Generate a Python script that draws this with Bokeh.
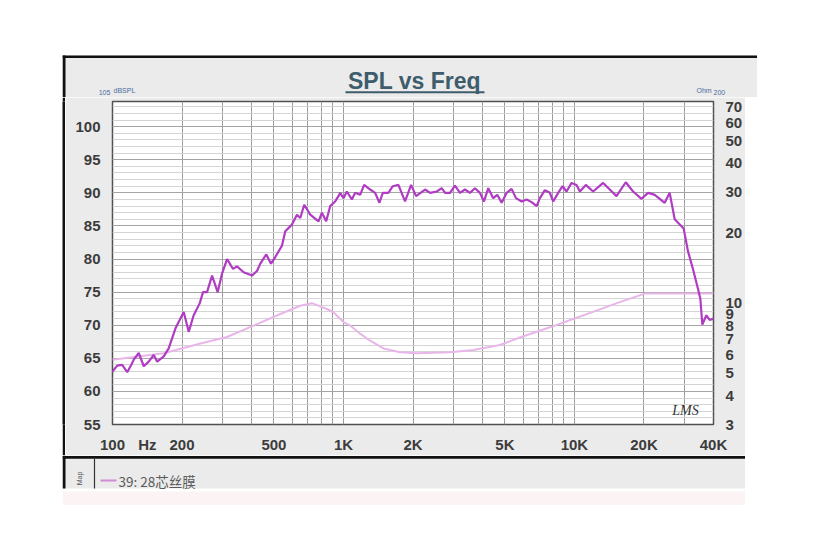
from bokeh.plotting import figure
from bokeh.layouts import column, row
from bokeh.models import (Range1d, LogScale, LinearScale, LogAxis, FixedTicker,
                          BoxAnnotation, Label)
from bokeh.embed import file_html
from bokeh.resources import INLINE

# ---------------- data ----------------
freq_spl = [100, 104.8, 110.1, 115.8, 120.5, 123.6, 129.9, 136.6, 143.5, 150.8,
            156.1, 166.7, 175.1, 187.2, 193.4, 203.4, 213.8, 224.6, 238.5, 246.6,
            256.6, 269.8, 285.3, 298.1, 313.3, 332.5, 346.0, 369.5, 401.8, 422.3,
            436.4, 463.2, 485.4, 506.6, 541.6, 559.8, 598.4, 628.9, 649.9, 676.3,
            717.8, 779.8, 806.6, 841.9, 876.1, 920.6, 951.4, 967.6, 1000, 1034,
            1087, 1124, 1181, 1229, 1305, 1371, 1431, 1480, 1565, 1635,
            1729, 1848, 1962, 2062, 2256, 2371, 2534, 2663, 2753, 2893,
            3040, 3195, 3358, 3530, 3710, 3899, 4058, 4236, 4452, 4633,
            4840, 5087, 5346, 5582, 5906, 6208, 6524, 6859, 7086, 7447,
            7827, 8089, 8502, 8882, 9244, 9716, 10210, 10554, 11202, 12046,
            13308, 14223, 15205, 16680, 17944, 19508, 20829, 22270, 24591, 25842,
            27172, 29717, 31007, 32590, 34258, 35087, 35787, 37251, 38494, 40000]
spl_db = [63.0, 63.9, 64.0, 62.9, 64.0, 64.8, 65.8, 63.8, 64.5, 65.5,
          64.5, 65.3, 66.5, 69.5, 70.5, 72.0, 69.0, 71.5, 73.3, 75.0,
          75.0, 77.5, 75.0, 77.8, 80.0, 78.5, 78.9, 78.0, 77.5, 78.2,
          79.3, 80.7, 79.3, 80.3, 82.0, 84.2, 85.2, 86.7, 86.2, 88.2,
          86.7, 85.7, 87.0, 85.7, 88.0, 88.7, 89.5, 90.0, 89.2, 90.2,
          89.0, 90.0, 89.7, 91.2, 90.5, 90.0, 88.5, 90.0, 90.0, 91.0,
          91.2, 88.7, 91.2, 89.5, 90.5, 90.0, 90.2, 90.7, 90.0, 90.0,
          91.1, 90.0, 90.5, 90.0, 90.7, 90.0, 88.7, 90.7, 89.2, 89.7,
          88.5, 90.0, 90.6, 89.2, 88.7, 89.0, 88.6, 88.0, 89.2, 90.4,
          90.0, 88.7, 90.0, 91.0, 90.2, 91.5, 91.2, 90.2, 91.2, 90.2,
          91.5, 90.5, 89.5, 91.6, 90.2, 89.1, 90.0, 89.7, 88.5, 90.0,
          86.0, 84.6, 81.2, 78.5, 75.5, 74.0, 70.1, 71.5, 70.8, 71.0]

freq_imp = [100, 166.7, 240.2, 313.3, 408.2, 532.5, 649.9, 730.2, 847.7, 905.1,
            1000, 1069, 1181, 1262, 1489, 1759, 2077, 2893, 3648, 4759,
            5806, 7827, 9940, 12877, 15714, 20160, 40000]
imp_ohm = [5.70, 6.08, 6.70, 7.15, 8.00, 8.98, 9.75, 10.0, 9.44, 9.14,
           8.29, 8.01, 7.39, 7.04, 6.38, 6.14, 6.08, 6.14, 6.28, 6.60,
           7.11, 7.87, 8.57, 9.40, 10.1, 11.0, 11.0]

x_ticks = [100, 141.7, 200, 500, 1000, 2000, 5000, 10000, 20000, 40000]
x_tick_labels = ["100", "Hz", "200", "500", "1K", "2K", "5K", "10K", "20K", "40K"]
x_grid = [100, 200, 300, 400, 500, 600, 700, 800, 900,
          1000, 2000, 3000, 4000, 5000, 6000, 7000, 8000, 9000,
          10000, 20000, 30000, 40000]
y_ticks = [55, 60, 65, 70, 75, 80, 85, 90, 95, 100]
y_minor = list(range(55, 104))
ohm_ticks = [3, 4, 5, 6, 7, 8, 9, 10, 20, 30, 40, 50, 60, 70]

title_text = "SPL vs Freq"
legend_text = "39: 28芯丝膜"

GRAY = "#ebebeb"
BLACK = "#111111"
SMALL_BLUE = "#4a6d9c"
LAB = "#3c3c3c"


def deco_fig(w, h, x0, y0, bg):
    f = figure(width=w, height=h, x_range=Range1d(x0, x0 + w),
               y_range=Range1d(y0 + h, y0), output_backend="svg",
               toolbar_location=None, min_border=0,
               x_axis_location=None, y_axis_location=None,
               background_fill_color=bg, border_fill_color=bg,
               outline_line_color=None)
    f.grid.visible = False
    return f


def box(f, l, r, t, b, color, **kw):
    f.add_layout(BoxAnnotation(left=l, right=r, top=t, bottom=b,
                               fill_color=color, fill_alpha=1.0,
                               line_color=None, **kw))


def label(f, x, y, text, size, color, align="left", style="normal",
          font="Liberation Sans", angle=0, **kw):
    f.add_layout(Label(x=x, y=y, text=text, text_font_size=size,
                       text_color=color, text_align=align, text_baseline="middle",
                       text_font_style=style, text_font=font, angle=angle, **kw))


# ---------------- top strip: frame line + title ----------------
top = deco_fig(695, 42, 62, 55, GRAY)
box(top, 62, 757, 54.5, 57.6, BLACK)
box(top, 62, 65, 54.5, 97, BLACK)
label(top, 414, 80, title_text, "23px", "#3e5d6c", align="center", style="bold")
box(top, 345, 484, 90.8, 92.8, "#3e5d6c")
label(top, 113, 89.5, "dBSPL", "7px", SMALL_BLUE)
label(top, 104, 91.5, "105", "7px", SMALL_BLUE, align="center")
label(top, 696, 89.5, "Ohm", "7px", SMALL_BLUE)
label(top, 713, 91.5, "200", "7px", SMALL_BLUE)

# ---------------- left black bar ----------------
bar = deco_fig(3, 358, 62, 97, BLACK)

# ---------------- main chart ----------------
p = figure(width=680, height=358, x_axis_type="log",
           x_range=Range1d(100, 40000), y_range=Range1d(55, 103.8),
           output_backend="svg", toolbar_location=None,
           min_border_left=47, min_border_right=31,
           min_border_top=4, min_border_bottom=28,
           background_fill_color="white", border_fill_color=GRAY,
           outline_line_color="#505050", outline_line_width=1.5)

p.extra_x_ranges = {"px": Range1d(112, 714)}
p.extra_x_scales = {"px": LinearScale()}
p.extra_y_ranges = {"ohm": Range1d(3, 74), "py": Range1d(427, 101)}
p.extra_y_scales = {"ohm": LogScale(), "py": LinearScale()}

p.xgrid.ticker = FixedTicker(ticks=x_grid)
p.xgrid.grid_line_color = "#9c9c9c"
p.ygrid.ticker = FixedTicker(ticks=y_ticks, minor_ticks=y_minor)
p.ygrid.grid_line_color = "#a4a4a4"
p.ygrid.minor_grid_line_color = "#d4d4d4"

p.line(freq_imp, imp_ohm, y_range_name="ohm", line_color="#e8b6e8", line_width=2)
p.line(freq_spl, spl_db, line_color="#b03cc4", line_width=2.2)

lab_font = "Liberation Sans"
for ax in (p.xaxis[0], p.yaxis[0]):
    ax.axis_line_color = None
    ax.major_tick_line_color = None
    ax.minor_tick_line_color = None
    ax.major_label_text_font = lab_font
    ax.major_label_text_font_size = "15px"
    ax.major_label_text_font_style = "bold"
    ax.major_label_text_color = LAB

p.xaxis[0].ticker = FixedTicker(ticks=x_ticks)
p.xaxis[0].major_label_overrides = dict(zip(x_ticks, x_tick_labels))
p.xaxis[0].major_label_standoff = 5
p.yaxis[0].ticker = FixedTicker(ticks=y_ticks)
p.yaxis[0].major_label_standoff = 6

rax = LogAxis(y_range_name="ohm", ticker=FixedTicker(ticks=ohm_ticks),
              major_label_overrides={t: str(t) for t in ohm_ticks},
              axis_line_color=None, major_tick_line_color=None,
              minor_tick_line_color=None, major_label_text_font=lab_font,
              major_label_text_font_size="15px", major_label_text_font_style="bold",
              major_label_text_color=LAB, major_label_standoff=6)
p.add_layout(rax, "right")

label(p, 686, 413, "LMS", "14px", "#333333", align="center", style="italic",
      font="Liberation Serif", x_range_name="px", y_range_name="py")

# ---------------- bottom strip: legend ----------------
bot = deco_fig(683, 50, 62, 455, "white")
box(bot, 62, 745, 455, 488, GRAY, level="underlay")
box(bot, 62, 745, 491, 505, "#fcf4f4", level="underlay")
box(bot, 62, 745, 455.5, 458.2, BLACK)
box(bot, 62, 65, 455, 488, BLACK)
box(bot, 93.4, 94.6, 458, 488, "#333333")
label(bot, 79, 478, "Map", "7px", "#555555", align="center", angle=1.5708)
box(bot, 100, 116, 479, 481, "#d48ad4")
label(bot, 118, 480, legend_text, "13.5px", "#5a5a5a", font="Noto Sans CJK SC")

layout = column(top, row(bar, p), bot, margin=(55, 0, 0, 62))

open("out.html", "w").write(file_html(layout, INLINE))
